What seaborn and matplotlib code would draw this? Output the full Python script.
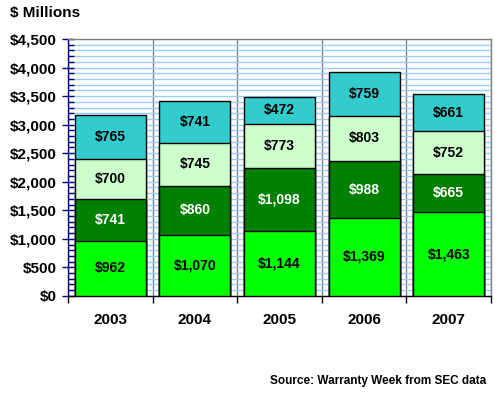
import matplotlib
matplotlib.use("Agg")
import matplotlib.pyplot as plt
import seaborn as sns
import numpy as np
import pandas as pd
from matplotlib.ticker import FuncFormatter

years = ["2003", "2004", "2005", "2006", "2007"]
seg1 = [962, 1070, 1144, 1369, 1463]
seg2 = [741, 860, 1098, 988, 665]
seg3 = [700, 745, 773, 803, 752]
seg4 = [765, 741, 472, 759, 661]

colors = ["#00FF00", "#008000", "#CCFFCC", "#33CCCC"]
label_colors = ["black", "white", "black", "black"]

sns.set_theme(style="white")
plt.rcParams["font.family"] = ["Liberation Sans", "DejaVu Sans"]
plt.rcParams["text.color"] = "black"
plt.rcParams["xtick.labelcolor"] = "black"
plt.rcParams["ytick.labelcolor"] = "black"

fig = plt.figure(figsize=(5.0, 3.94), dpi=100)
ax = fig.add_axes([0.136, 0.249, 0.846, 0.652])

segs = [seg1, seg2, seg3, seg4]
cum = np.cumsum(np.array(segs), axis=0)

for i in range(3, -1, -1):
    df = pd.DataFrame({"year": years, "val": cum[i]})
    sns.barplot(data=df, x="year", y="val", color=colors[i], saturation=1,
                edgecolor="black", linewidth=1.0, width=0.84, ax=ax, zorder=3)

for i in range(4):
    for j, y in enumerate(years):
        mid = cum[i][j] - segs[i][j] / 2.0
        ax.text(j, mid, f"${segs[i][j]:,}", ha="center", va="center",
                fontsize=10, fontweight="bold", color=label_colors[i],
                family=["Liberation Sans Narrow", "Liberation Sans"], zorder=5)

ax.set_xlim(-0.5, 4.5)
ax.set_ylim(0, 4500)
ax.set_yticks(np.arange(0, 4501, 500))
ax.set_yticks(np.arange(0, 4501, 100), minor=True)
ax.yaxis.set_major_formatter(FuncFormatter(lambda v, p: f"${int(v):,}"))
ax.set_xticks(np.arange(-0.5, 4.6, 1.0), minor=True)

ax.yaxis.grid(True, which="both", color="#99CCFF", linewidth=1.0, zorder=0)
ax.xaxis.grid(True, which="minor", color="#808080", linewidth=1.0, zorder=1)
ax.xaxis.grid(False, which="major")
ax.set_axisbelow(True)

ax.tick_params(axis="y", which="major", direction="inout", length=8, width=1,
               color="#000080", labelcolor="black", labelsize=11, pad=4, left=True)
ax.tick_params(axis="y", which="minor", direction="in", length=4, width=1,
               color="#000080", left=True)
ax.tick_params(axis="x", which="major", length=0, labelsize=11, pad=12,
               labelcolor="black")
ax.tick_params(axis="x", which="minor", direction="out", length=5, width=1,
               color="black", bottom=True)
for lab in ax.get_yticklabels() + ax.get_xticklabels():
    lab.set_fontweight("bold")

ax.set_xlabel("")
ax.set_ylabel("")
ax.spines["left"].set_color("#000080")
ax.spines["bottom"].set_color("black")
ax.spines["top"].set_color("#808080")
ax.spines["right"].set_color("#808080")
for s in ax.spines.values():
    s.set_linewidth(1.0)
    s.set_visible(True)

fig.text(0.02, 0.968, "$ Millions", fontsize=11, fontweight="bold", ha="left",
         va="center", color="black")
fig.text(0.972, 0.032, "Source: Warranty Week from SEC data", fontsize=8.5,
         fontweight="bold", ha="right", va="center", color="black")

fig.savefig("out.png", dpi=100)
